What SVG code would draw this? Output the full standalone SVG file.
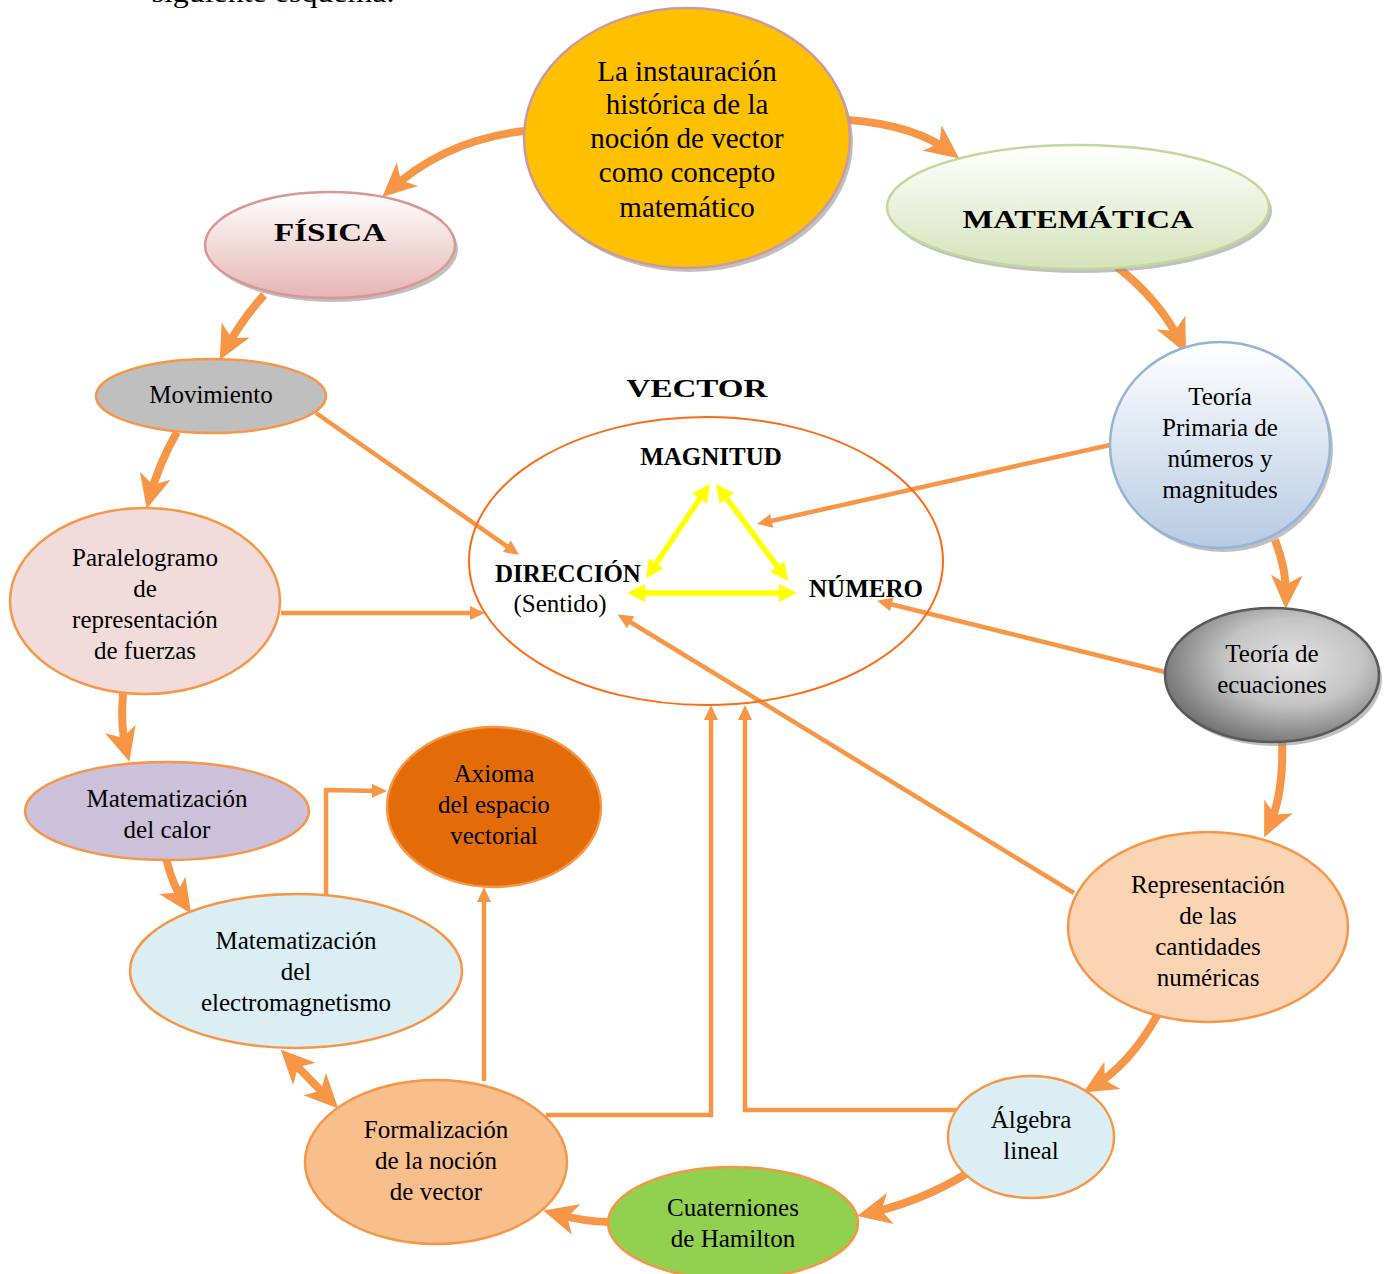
<svg xmlns="http://www.w3.org/2000/svg" width="1388" height="1274" viewBox="0 0 1388 1274">
<defs>
<style>
text{font-family:"Liberation Serif","Times New Roman",serif;fill:#000;text-anchor:middle}
.t{font-size:25px}
.tb{font-size:29px}
.cap{font-size:26px;font-weight:bold}
.lab{font-size:25px;font-weight:bold}
.node{stroke:#F79646;stroke-width:2.5}
.thick{fill:none;stroke:#F79646;stroke-width:8}
.thin{fill:none;stroke:#F79646;stroke-width:4.5}
.yel{fill:none;stroke:#FFFF00;stroke-width:5.5}
.shadow{fill:#8c8c8c;opacity:0.55}
</style>
<linearGradient id="gF" x1="0" y1="0" x2="0" y2="1"><stop offset="0" stop-color="#ffffff"/><stop offset="1" stop-color="#E5B5B4"/></linearGradient>
<linearGradient id="gM" x1="0" y1="0" x2="0" y2="1"><stop offset="0" stop-color="#ffffff"/><stop offset="1" stop-color="#D5E3BA"/></linearGradient>
<linearGradient id="gT" x1="0" y1="0" x2="0" y2="1"><stop offset="0" stop-color="#ffffff"/><stop offset="1" stop-color="#B7CBE4"/></linearGradient>
<radialGradient id="gE" cx="0.6" cy="0.4" r="0.65"><stop offset="0" stop-color="#e2e2e2"/><stop offset="0.5" stop-color="#c4c4c4"/><stop offset="1" stop-color="#6e6e6e"/></radialGradient>
<marker id="ak" markerUnits="userSpaceOnUse" markerWidth="34" markerHeight="32" viewBox="0 0 30 28" refX="22" refY="14" orient="auto"><path d="M0,0 L30,14 L0,28 L8,14 z" fill="#F79646"/></marker>
<marker id="aks" markerUnits="userSpaceOnUse" markerWidth="34" markerHeight="32" viewBox="0 0 30 28" refX="22" refY="14" orient="auto-start-reverse"><path d="M0,0 L30,14 L0,28 L8,14 z" fill="#F79646"/></marker>
<marker id="at" markerUnits="userSpaceOnUse" markerWidth="16" markerHeight="14" viewBox="0 0 15 14" refX="10" refY="7" orient="auto"><path d="M0,0 L15,7 L0,14 z" fill="#F79646"/></marker>
<marker id="ay" markerUnits="userSpaceOnUse" markerWidth="18" markerHeight="18" viewBox="0 0 18 18" refX="13" refY="9" orient="auto-start-reverse"><path d="M0,0 L18,9 L0,18 z" fill="#FFFF00"/></marker>
</defs>
<rect width="1388" height="1274" fill="#ffffff"/>
<text x="273" y="2" style="font-size:28px" textLength="243" lengthAdjust="spacingAndGlyphs">siguiente esquema.</text>

<g id="connectors">
<path class="thick" marker-end="url(#ak)" d="M524,131 Q445,140 389,191"/>
<path class="thick" marker-end="url(#ak)" d="M849,120 Q915,125 952,153"/>
<path class="thick" marker-end="url(#ak)" d="M1117,267 Q1160,300 1182,345"/>
<path class="thick" marker-end="url(#ak)" d="M1275,540 Q1287,570 1286,600"/>
<path class="thick" marker-end="url(#ak)" d="M1282,742 Q1284,795 1268,829"/>
<path class="thick" marker-end="url(#ak)" d="M1158,1014 Q1130,1065 1091,1088"/>
<path class="thick" marker-end="url(#ak)" d="M966,1174 Q920,1202 866,1214"/>
<path class="thick" marker-end="url(#ak)" d="M609,1222 Q585,1222 552,1213"/>
<path class="thick" marker-start="url(#aks)" marker-end="url(#ak)" d="M287,1056 L332,1102"/>
<path class="thick" marker-end="url(#ak)" d="M166,858 Q172,885 186,906"/>
<path class="thick" marker-end="url(#ak)" d="M123,694 Q120,728 127,753"/>
<path class="thick" marker-end="url(#ak)" d="M177,432 Q158,465 149,500"/>
<path class="thick" marker-end="url(#ak)" d="M264,295 Q240,322 224,352"/>
<path class="thin" marker-end="url(#at)" d="M316,413 L515,552"/>
<path class="thin" marker-end="url(#at)" d="M281,613 L480,613"/>
<path class="thin" marker-end="url(#at)" d="M1110,445 L762,523"/>
<path class="thin" marker-end="url(#at)" d="M1165,672 L882,602"/>
<path class="thin" marker-end="url(#at)" d="M1074,893 L622,617"/>
<path class="thin" marker-end="url(#at)" d="M546,1115 L711,1115 L711,710"/>
<path class="thin" marker-end="url(#at)" d="M962,1110 L745,1110 L745,710"/>
<path class="thin" marker-end="url(#at)" d="M484,1081 L484,892"/>
<path class="thin" marker-end="url(#at)" d="M326,895 L326,790 L382,791"/>
<path class="yel" marker-start="url(#ay)" marker-end="url(#ay)" d="M707,488 L649,574"/>
<path class="yel" marker-start="url(#ay)" marker-end="url(#ay)" d="M719,488 L785,577"/>
<path class="yel" marker-start="url(#ay)" marker-end="url(#ay)" d="M632,593 L792,593"/>
</g>

<g id="vector">
<ellipse cx="706" cy="561" rx="237" ry="144" fill="none" stroke="#FF6A13" stroke-width="2"/>
<text class="cap" x="697" y="397" textLength="141" lengthAdjust="spacingAndGlyphs">VECTOR</text>
<text class="lab" x="711" y="465">MAGNITUD</text>
<text class="lab" x="568" y="582">DIRECCIÓN</text>
<text class="t" x="560" y="612">(Sentido)</text>
<text class="lab" x="866" y="597">NÚMERO</text>
</g>

<g id="n-top">
<ellipse class="shadow" cx="690" cy="142" rx="163" ry="130"/>
<ellipse cx="687" cy="138" rx="163" ry="130" fill="#FFC000" stroke="#C99A9F" stroke-width="2.5"/>
<text class="tb" x="687" y="81">La instauración</text>
<text class="tb" x="687" y="114">histórica de la</text>
<text class="tb" x="687" y="148">noción de vector</text>
<text class="tb" x="687" y="182">como concepto</text>
<text class="tb" x="687" y="217">matemático</text>
</g>

<g id="n-fisica">
<ellipse class="shadow" cx="333" cy="249" rx="125" ry="53"/>
<ellipse cx="330" cy="245" rx="125" ry="53" fill="url(#gF)" stroke="#D99694" stroke-width="2.5"/>
<text class="cap" x="330" y="241" textLength="112" lengthAdjust="spacingAndGlyphs">FÍSICA</text>
</g>

<g id="n-matematica">
<ellipse class="shadow" cx="1081" cy="211" rx="191" ry="62"/>
<ellipse cx="1078" cy="207" rx="191" ry="62" fill="url(#gM)" stroke="#C3D69B" stroke-width="2.5"/>
<text class="cap" x="1078" y="228" textLength="231" lengthAdjust="spacingAndGlyphs">MATEMÁTICA</text>
</g>

<g id="n-primaria">
<ellipse class="shadow" cx="1223" cy="449" rx="110" ry="103"/>
<ellipse cx="1220" cy="445" rx="110" ry="103" fill="url(#gT)" stroke="#95B3D7" stroke-width="2.5"/>
<text class="t" x="1220" y="405">Teoría</text>
<text class="t" x="1220" y="436">Primaria de</text>
<text class="t" x="1220" y="467">números y</text>
<text class="t" x="1220" y="498">magnitudes</text>
</g>

<g id="n-ecuaciones">
<ellipse class="shadow" cx="1275" cy="679" rx="107" ry="67"/>
<ellipse cx="1272" cy="675" rx="107" ry="67" fill="url(#gE)" stroke="#595959" stroke-width="2.5"/>
<text class="t" x="1272" y="662">Teoría de</text>
<text class="t" x="1272" y="693">ecuaciones</text>
</g>

<g id="n-representacion">
<ellipse class="node" cx="1208" cy="927" rx="140" ry="95" fill="#FBD4B4"/>
<text class="t" x="1208" y="893">Representación</text>
<text class="t" x="1208" y="924">de las</text>
<text class="t" x="1208" y="955">cantidades</text>
<text class="t" x="1208" y="986">numéricas</text>
</g>

<g id="n-algebra">
<ellipse class="node" cx="1031" cy="1137" rx="83" ry="61" fill="#DAEEF3"/>
<text class="t" x="1031" y="1128">Álgebra</text>
<text class="t" x="1031" y="1159">lineal</text>
</g>

<g id="n-cuaterniones">
<ellipse class="node" cx="733" cy="1223" rx="125" ry="56" fill="#92D050"/>
<text class="t" x="733" y="1216">Cuaterniones</text>
<text class="t" x="733" y="1247">de Hamilton</text>
</g>

<g id="n-formalizacion">
<ellipse class="node" cx="436" cy="1162" rx="131" ry="82" fill="#F8BE8C"/>
<text class="t" x="436" y="1138">Formalización</text>
<text class="t" x="436" y="1169">de la noción</text>
<text class="t" x="436" y="1200">de vector</text>
</g>

<g id="n-axioma">
<ellipse class="node" cx="494" cy="807" rx="107" ry="80" fill="#E36C09"/>
<text class="t" x="494" y="782">Axioma</text>
<text class="t" x="494" y="813">del espacio</text>
<text class="t" x="494" y="844">vectorial</text>
</g>

<g id="n-electro">
<ellipse class="node" cx="296" cy="971" rx="166" ry="77" fill="#DAEEF3"/>
<text class="t" x="296" y="949">Matematización</text>
<text class="t" x="296" y="980">del</text>
<text class="t" x="296" y="1011">electromagnetismo</text>
</g>

<g id="n-calor">
<ellipse class="node" cx="167" cy="811" rx="142" ry="49" fill="#CCC0DA"/>
<text class="t" x="167" y="807">Matematización</text>
<text class="t" x="167" y="838">del calor</text>
</g>

<g id="n-paralelogramo">
<ellipse class="node" cx="145" cy="601" rx="135" ry="93" fill="#F2DCDB"/>
<text class="t" x="145" y="566">Paralelogramo</text>
<text class="t" x="145" y="597">de</text>
<text class="t" x="145" y="628">representación</text>
<text class="t" x="145" y="659">de fuerzas</text>
</g>

<g id="n-movimiento">
<ellipse class="node" cx="211" cy="396" rx="115" ry="37" fill="#BFBFBF"/>
<text class="t" x="211" y="403">Movimiento</text>
</g>
</svg>
